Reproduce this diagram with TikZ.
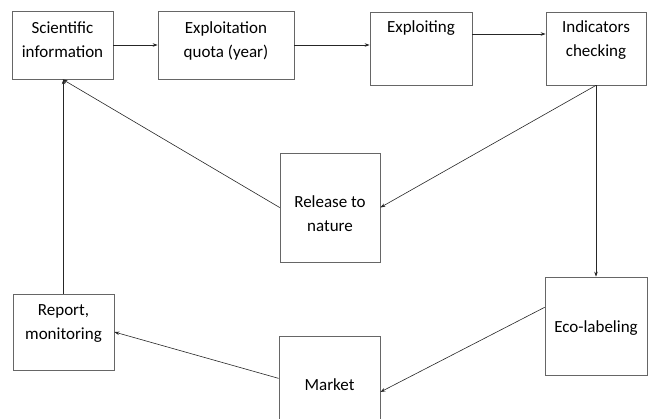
\documentclass[tikz,border=0pt]{standalone}
\usepackage{fontspec}
\setmainfont{Carlito}
\usetikzlibrary{positioning,arrows.meta}
% width, height, first baseline, text
\newcommand{\boxtxt}[4]{\parbox[c][#2][t]{#1}{\centering\rule{0pt}{#3}#4}}

\begin{document}
\begin{tikzpicture}[x=1pt,y=-1pt]
\useasboundingbox (0,0) rectangle (648,418);
\clip (0,0) rectangle (648,418);
\tikzstyle{every node}=[draw=black!60,line width=0.7pt,shape=rectangle,inner sep=0pt,
  font=\fontsize{17}{24}\selectfont];
\tikzstyle{conn}=[draw=black!85,line width=0.6pt,-{Stealth[length=5pt,width=3.5pt]}];

\draw node (sci) at (62.5,45) {\boxtxt{101pt}{68pt}{22pt}{Scientific\\information}};
\draw node (quota) at (226,45) {\boxtxt{136pt}{68pt}{22pt}{Exploitation\\quota (year)}};
\draw node (expl) at (421,48.5) {\boxtxt{102pt}{73pt}{20pt}{Exploiting}};
\draw node (ind) at (596,48.5) {\boxtxt{100pt}{73pt}{20pt}{Indicators\\checking}};
\draw node (rel) at (330,207.5) {\boxtxt{100pt}{109pt}{54pt}{Release to\\nature}};
\draw node (eco) at (596,326) {\boxtxt{102pt}{98pt}{55pt}{Eco-labeling}};
\draw node (rep) at (63.5,332) {\boxtxt{101pt}{76pt}{21pt}{Report,\\monitoring}};
\draw node (mkt) at (329.5,392) {\boxtxt{101pt}{112pt}{54pt}{Market}};

\draw[conn] (sci) -- (quota);
\draw[conn] (quota.east) -- (quota.east -| expl.west);
\draw[conn] ([yshift=14.5pt]expl.east) -- ([yshift=14.5pt]ind.west);
\draw[conn] (ind.south) -- (rel.east);
\draw[conn] (ind.south) -- (eco.north);
\draw[conn] (rel.west) -- (sci.south);
\draw[conn] (eco.160) -- (mkt.east);
\draw[conn] (mkt.165) -- (rep.east);
\draw[conn] (rep.north) -- (rep.north |- sci.south);
\end{tikzpicture}
\end{document}
